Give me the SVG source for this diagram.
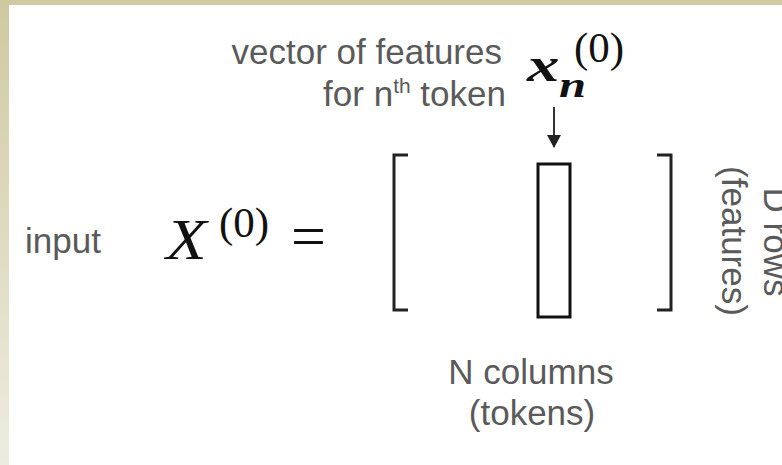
<svg xmlns="http://www.w3.org/2000/svg" width="782" height="465" viewBox="0 0 782 465">
  <defs>
    <linearGradient id="sideGrad" x1="0" y1="0" x2="0" y2="1">
      <stop offset="0" stop-color="#cfc9a0"/>
      <stop offset="1" stop-color="#eeece1"/>
    </linearGradient>
    <marker id="arrowHead" markerWidth="14" markerHeight="14" refX="12" refY="7" orient="auto" markerUnits="userSpaceOnUse" viewBox="0 0 14 14">
      <path d="M0,0 L13,7 L0,14 Z" fill="#222"/>
    </marker>
    <style>
      .label { font-family: "Liberation Sans", Arial, sans-serif; font-size: 35px; fill: #5a5a5a; }
      .math { font-family: "Liberation Serif", "Times New Roman", serif; fill: #111; }
      .bvec { font-family: "Liberation Serif", "Times New Roman", serif; font-weight: bold; font-style: italic; fill: #111; }
      .bracket { fill: none; stroke: #222; stroke-width: 3; }
      .vec { fill: #fff; stroke: #111; stroke-width: 3; }
      .conn { stroke: #333; stroke-width: 2; fill: none; }
    </style>
  </defs>

  <!-- background -->
  <rect x="0" y="0" width="782" height="465" fill="#ffffff"/>
  <rect x="0" y="0" width="782" height="5" fill="#d0caa1"/>
  <rect x="0" y="0" width="9" height="465" fill="url(#sideGrad)"/>

  <g id="input-label">
    <text class="label" x="25" y="253">input</text>
  </g>

  <g id="matrix-symbol">
    <text class="math" transform="translate(166,259) scale(1.15,1)" x="0" y="0" font-size="58" font-style="italic">X</text>
    <text class="math" x="219" y="237" font-size="43">(0)</text>
    <text class="math" x="291" y="257" font-size="62">=</text>
  </g>

  <g id="matrix">
    <path class="bracket" d="M408,155 L394,155 L394,310 L408,310"/>
    <path class="bracket" d="M657,155 L671,155 L671,310 L657,310"/>
    <rect id="token-vector" class="vec" x="538" y="164" width="32" height="153"/>
  </g>

  <g id="vector-label">
    <text class="label" x="502" y="64" text-anchor="end">vector of features</text>
    <text class="label" x="506" y="106" text-anchor="end">for n<tspan font-size="21" dy="-13">th</tspan><tspan dy="13"> token</tspan></text>
  </g>

  <g id="vector-symbol">
    <text class="bvec" transform="translate(527,81) scale(1.35,1)" x="0" y="0" font-size="48">x</text>
    <text class="bvec" transform="translate(559,97) scale(1.35,1)" x="0" y="0" font-size="36">n</text>
    <text class="math" x="574" y="62" font-size="43">(0)</text>
  </g>

  <g id="columns-label">
    <text class="label" x="531" y="384" text-anchor="middle">N columns</text>
    <text class="label" x="532" y="425" text-anchor="middle">(tokens)</text>
  </g>

  <g id="rows-label">
    <text class="label" transform="translate(764,242) rotate(90)" text-anchor="middle">D rows</text>
    <text class="label" transform="translate(722,241) rotate(90)" text-anchor="middle">(features)</text>
  </g>

  <g id="connectors">
    <line class="conn" x1="554" y1="107" x2="554" y2="147" marker-end="url(#arrowHead)"/>
  </g>
</svg>
